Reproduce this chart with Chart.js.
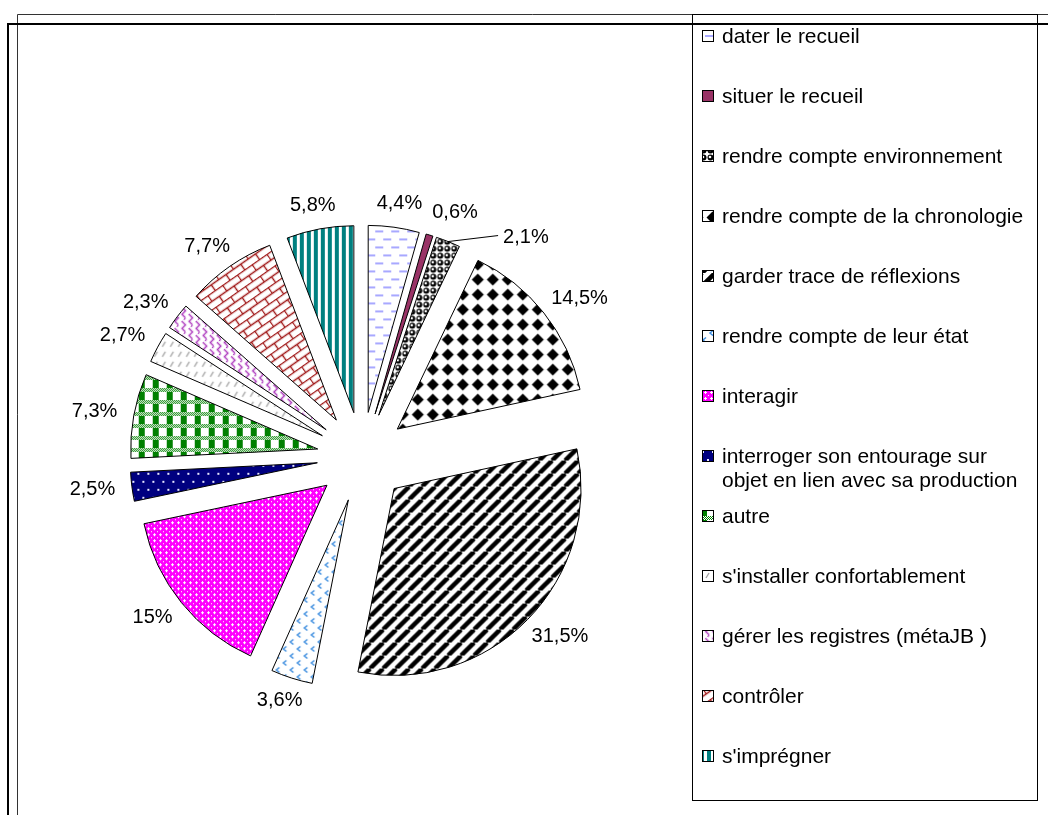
<!DOCTYPE html>
<html>
<head>
<meta charset="utf-8">
<script src="https://cdn.jsdelivr.net/npm/chart.js@4/dist/chart.umd.min.js"></script>
<style>
  html, body { margin: 0; padding: 0; background: #fff; }
  canvas { display: block; }
</style>
</head>
<body>
<canvas id="pie" width="1048" height="815"></canvas>
<script>
const categories = [
  'dater le recueil',
  'situer le recueil',
  'rendre compte environnement',
  'rendre compte de la chronologie',
  'garder trace de réflexions',
  'rendre compte de leur état',
  'interagir',
  ['interroger son entourage sur', 'objet en lien avec sa production'],
  'autre',
  "s'installer confortablement",
  'gérer les registres (métaJB )',
  'contrôler',
  "s'imprégner"
];
const percentages = [4.4, 0.6, 2.1, 14.5, 31.5, 3.6, 15, 2.5, 7.3, 2.7, 2.3, 7.7, 5.8];

const EXPLODE = 45;      // every slice pulled out by the same distance
const LABEL_GAP = 17;
const FONT = '20px "Liberation Sans", Arial, sans-serif';
const LEGEND_FONT = '21px "Liberation Sans", Arial, sans-serif';

const ctx = document.getElementById('pie').getContext('2d');

// small helpers for the hatch fills
function tile(w, h, paint) {
  const c = document.createElement('canvas');
  c.width = w; c.height = h;
  const g = c.getContext('2d');
  g.fillStyle = '#fff';
  g.fillRect(0, 0, w, h);
  paint(g);
  return c;
}
function pattern(c, angle) {
  const p = ctx.createPattern(c, 'repeat');
  if (angle) p.setTransform(new DOMMatrix().rotate(angle));
  return p;
}

const fills = [
  // dater : light blue dashes
  pattern(tile(16, 16, g => {
    g.fillStyle = '#a8a8ff';
    g.fillRect(1, 3, 8, 2);
    g.fillRect(9, 11, 7, 2);
    g.fillRect(0, 11, 1, 2);
  })),
  // situer : plain plum
  '#993366',
  // environnement : little spheres
  pattern(tile(7, 7, g => {
    g.fillStyle = '#000';
    g.beginPath(); g.arc(3.5, 3.5, 3, 0, Math.PI * 2); g.fill();
    g.fillStyle = '#fff';
    g.beginPath(); g.arc(3, 3, 1.3, 0, Math.PI * 2); g.fill();
  })),
  // chronologie : black diamonds
  pattern(tile(15, 15, g => {
    g.fillStyle = '#000';
    g.beginPath();
    g.moveTo(7.5, 1.5); g.lineTo(13.5, 7.5); g.lineTo(7.5, 13.5); g.lineTo(1.5, 7.5);
    g.closePath(); g.fill();
  })),
  // garder trace : wide diagonal stripes
  pattern(tile(13, 13, g => {
    g.strokeStyle = '#000'; g.lineWidth = 4.5;
    [-13, 0, 13].forEach(k => { g.beginPath(); g.moveTo(k, 13); g.lineTo(k + 13, 0); g.stroke(); });
  })),
  // leur état : blue chevrons
  pattern(tile(14, 14, g => {
    g.strokeStyle = '#3f8fe0'; g.lineWidth = 1.5;
    g.beginPath(); g.moveTo(6, 1.5); g.lineTo(3, 4); g.lineTo(6, 6.5); g.stroke();
    g.beginPath(); g.moveTo(13, 8.5); g.lineTo(10, 11); g.lineTo(13, 13.5); g.stroke();
  })),
  // interagir : magenta lattice
  pattern(tile(6, 6, g => {
    g.fillStyle = '#ff00ff'; g.fillRect(0, 0, 6, 6);
    g.fillStyle = '#fff';
    g.fillRect(3, 1, 1, 3); g.fillRect(2, 2, 3, 1); g.fillRect(0, 5, 1, 1);
  })),
  // interroger : navy with white dots
  pattern(tile(10, 16, g => {
    g.fillStyle = '#000080'; g.fillRect(0, 0, 10, 16);
    g.fillStyle = '#e8e8ff';
    g.fillRect(2, 3, 2, 2); g.fillRect(7, 11, 2, 2);
  })),
  // autre : green gingham
  pattern(tile(14, 12, g => {
    g.fillStyle = '#008000';
    for (let y = 0; y < 4; y++) for (let x = 0; x < 14; x++) if ((x + y) % 2 === 0) g.fillRect(x, y, 1, 1);
    g.fillRect(1, 4, 6, 8);
  })),
  // s'installer : grey short dashes
  pattern(tile(8, 10, g => {
    g.strokeStyle = '#a0a0a0'; g.lineWidth = 1.3;
    g.beginPath(); g.moveTo(2, 8); g.lineTo(5, 3); g.stroke();
  })),
  // gérer : purple weave
  pattern(tile(10, 10, g => {
    g.strokeStyle = '#b040c0'; g.lineWidth = 1.5;
    g.beginPath(); g.moveTo(0, 2.5); g.lineTo(5.5, 2.5); g.lineTo(5.5, 7.5); g.lineTo(10, 7.5); g.stroke();
    g.beginPath(); g.moveTo(0.5, 7.5); g.lineTo(0.5, 10); g.stroke();
  }), 45),
  // contrôler : dark red bricks
  pattern(tile(18, 14, g => {
    g.strokeStyle = '#a01818'; g.lineWidth = 1.4;
    g.beginPath();
    g.moveTo(0, 0.5); g.lineTo(18, 0.5);
    g.moveTo(0, 7.5); g.lineTo(18, 7.5);
    g.moveTo(0.5, 0); g.lineTo(0.5, 7.5);
    g.moveTo(9.5, 7.5); g.lineTo(9.5, 14);
    g.stroke();
  }), -35),
  // s'imprégner : teal vertical stripes
  pattern(tile(7, 1, g => {
    g.fillStyle = '#008080'; g.fillRect(0, 0, 4, 1);
  }))
];

function fmt(v) {
  return String(v).replace('.', ',') + '%';
}

const frame = {
  id: 'frame',
  beforeDraw(chart) {
    const c = chart.ctx;
    c.save();
    c.fillStyle = '#fff';
    c.fillRect(0, 0, chart.width, chart.height);
    c.strokeStyle = '#333'; c.lineWidth = 1;
    c.beginPath();
    c.moveTo(1048, 14.5); c.lineTo(17.5, 14.5); c.lineTo(17.5, 815);
    c.stroke();
    c.strokeStyle = '#000'; c.lineWidth = 2;
    c.beginPath();
    c.moveTo(1048, 24); c.lineTo(8, 24); c.lineTo(8, 815);
    c.stroke();
    c.lineWidth = 1;
    c.strokeRect(692.5, 14.5, 345, 786);
    c.restore();
  }
};

// draw each arc pushed out along its middle angle
const explode = {
  id: 'explode',
  beforeDatasetDraw(chart, args) {
    const c = chart.ctx;
    args.meta.data.forEach(arc => {
      const mid = (arc.startAngle + arc.endAngle) / 2;
      c.save();
      c.translate(Math.cos(mid) * EXPLODE, Math.sin(mid) * EXPLODE);
      arc.draw(c);
      c.restore();
    });
    return false;
  }
};

function overlaps(a, b) {
  return a.l < b.r && b.l < a.r && a.t < b.b && b.t < a.b;
}

const pctLabels = {
  id: 'pctLabels',
  afterDatasetsDraw(chart) {
    const c = chart.ctx;
    const arcs = chart.getDatasetMeta(0).data;
    c.save();
    c.font = FONT;
    c.fillStyle = '#000';
    c.strokeStyle = '#000';
    c.lineWidth = 1;
    c.textAlign = 'center';
    c.textBaseline = 'middle';
    const boxes = [];
    arcs.forEach((arc, i) => {
      const p = arc.getProps(['x', 'y', 'startAngle', 'endAngle', 'outerRadius'], true);
      const mid = (p.startAngle + p.endAngle) / 2;
      const dx = Math.cos(mid), dy = Math.sin(mid);
      const text = fmt(percentages[i]);
      const w = c.measureText(text).width, h = 14;
      const d = p.outerRadius + EXPLODE + LABEL_GAP;
      let x = p.x + dx * d + dx * w / 2;
      let y = p.y + dy * d + dy * h / 2;
      const box = () => ({ l: x - w / 2, r: x + w / 2, t: y - h / 2, b: y + h / 2 });
      const hit = boxes.find(b => overlaps(b, box()));
      if (hit) {
        const side = dx >= 0 ? 1 : -1;
        const need = side > 0 ? hit.r + 10 - (x - w / 2) : (x + w / 2) - (hit.l - 10);
        if (need <= 25) {
          x += side * need;
        } else {
          // too crowded: move it aside with a leader line
          const ox = p.x + dx * (p.outerRadius + EXPLODE);
          const oy = p.y + dy * (p.outerRadius + EXPLODE);
          const ex = ox + side * 50;
          c.beginPath(); c.moveTo(ox, oy); c.lineTo(ex, oy - 6); c.stroke();
          x = ex + side * (w / 2 + 5);
          y = oy - 4;
        }
      }
      boxes.push(box());
      c.fillText(text, x, y);
    });
    c.restore();
  }
};

const legendBox = {
  id: 'legendBox',
  afterDraw(chart) {
    const c = chart.ctx;
    c.save();
    c.font = LEGEND_FONT;
    c.textBaseline = 'alphabetic';
    categories.forEach((label, i) => {
      const y = 36 + i * 60;
      c.fillStyle = fills[i];
      c.fillRect(702, y - 6, 12, 12);
      c.strokeStyle = '#000'; c.lineWidth = 1;
      c.strokeRect(702.5, y - 5.5, 11, 11);
      c.fillStyle = '#000';
      [].concat(label).forEach((line, k) => c.fillText(line, 722, y + 7 + k * 24));
    });
    c.restore();
  }
};

new Chart(ctx, {
  type: 'pie',
  data: {
    labels: categories,
    datasets: [{
      data: percentages,
      backgroundColor: fills,
      borderColor: '#000',
      borderWidth: 1
    }]
  },
  options: {
    responsive: false,
    animation: false,
    events: [],
    radius: 187,
    layout: { padding: { left: 0, right: 324, top: 99, bottom: 0 } },
    plugins: {
      legend: { display: false },
      tooltip: { enabled: false }
    }
  },
  plugins: [frame, explode, pctLabels, legendBox]
});
</script>
</body>
</html>
